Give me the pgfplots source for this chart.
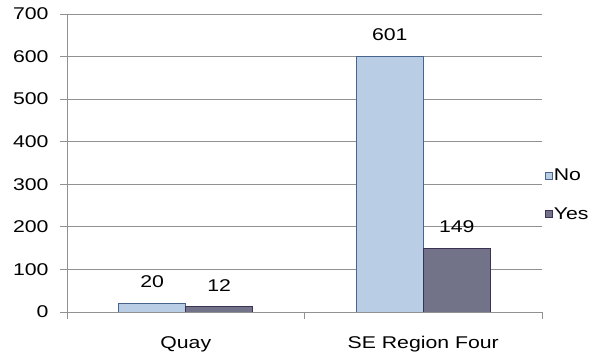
\documentclass[border=0pt]{standalone}
\usepackage{fontspec}
\setmainfont{Liberation Sans}[FakeStretch=1.25]
\usepackage{pgfplots}
\pgfplotsset{compat=1.18}
\definecolor{nofill}{RGB}{185,205,228}
\definecolor{nodraw}{RGB}{70,100,140}
\definecolor{yesfill}{RGB}{114,114,136}
\definecolor{yesdraw}{RGB}{60,50,85}
\definecolor{gridgray}{RGB}{145,145,145}
\begin{document}
\begin{tikzpicture}[x=1pt,y=1pt]
\begin{axis}[
  at={(0pt,0pt)}, anchor=south west,
  scale only axis, width=475pt, height=298pt,
  /pgf/number format/assume math mode=true,
  font=\fontsize{17}{20}\selectfont,
  ybar=0pt, bar width=67pt,
  xmin=-0.5, xmax=1.5, ymin=0, ymax=700,
  ytick={0,100,...,700},
  xtick={0,1}, xticklabels={Quay, SE Region Four},
  major x tick style={draw=none},
  extra x ticks={-0.5,0.5,1.5}, extra x tick labels={},
  extra x tick style={major x tick style={draw=gridgray, line width=0.8pt}, grid=none},
  tick align=outside, major tick length=7pt,
  tick style={draw=gridgray, line width=0.8pt},
  axis x line*=bottom, axis y line*=left,
  axis line style={draw=gridgray, line width=0.8pt, -},
  ymajorgrids, grid style={draw=gridgray, line width=0.8pt},
  xticklabel style={yshift=-14pt},
  yticklabel style={xshift=-8pt},
  nodes near coords, nodes near coords style={anchor=south, yshift=12pt, font=\fontsize{17}{20}\selectfont, text=black},
  legend style={at={(1.006,0.48)}, anchor=north west, draw=none, fill=none,
    row sep=25pt, inner sep=0pt, font=\fontsize{17}{20}\selectfont,
    nodes={inner xsep=1pt, inner ysep=0pt}},
  legend image code/.code={\draw[#1, line width=0.8pt] (0pt,-3.5pt) rectangle (7pt,3.5pt);},
  legend cell align=left,
]
\addplot[fill=nofill, draw=nodraw, line width=0.8pt] coordinates {(0,20) (1,601)};
\addplot[fill=yesfill, draw=yesdraw, line width=0.8pt] coordinates {(0,12) (1,149)};
\legend{No,Yes}
\end{axis}
\pgfresetboundingbox
\path (-67pt,-50pt) rectangle (531pt,312pt);
\end{tikzpicture}
\end{document}
